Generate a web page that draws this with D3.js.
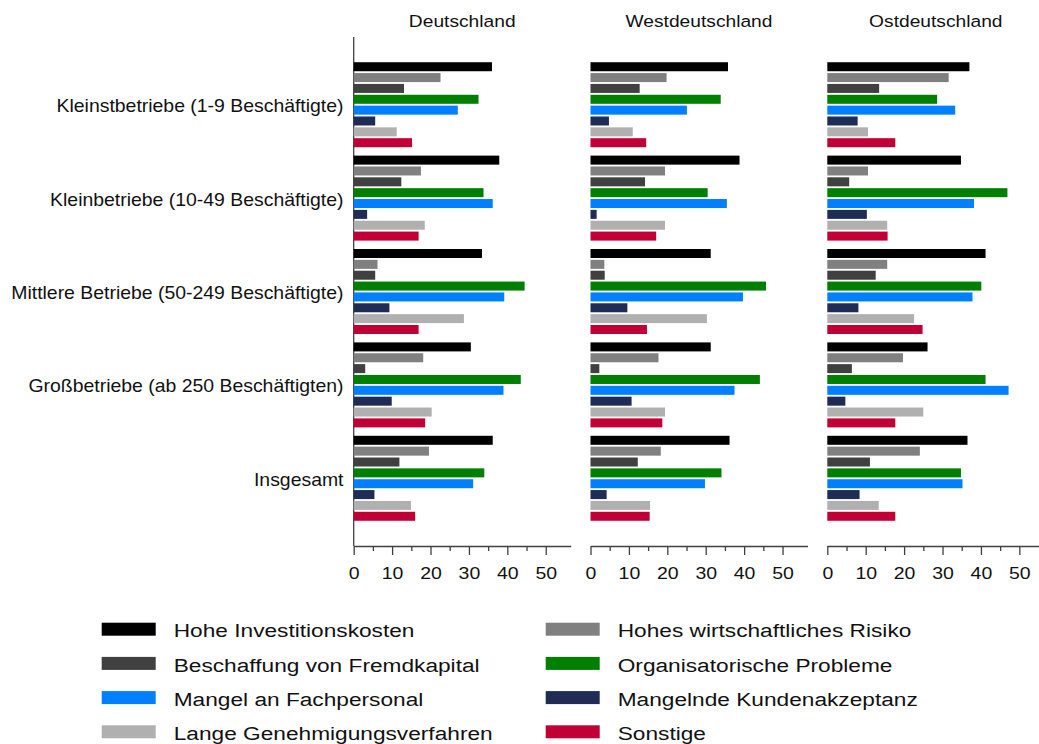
<!DOCTYPE html>
<html>
<head>
<meta charset="utf-8">
<script src="https://cdn.jsdelivr.net/npm/d3@7"></script>
<style>
  body { margin: 0; background: #fff; }
  text { font-family: "Liberation Sans", Arial, sans-serif; fill: #111; }
</style>
</head>
<body>
<script>
const categories = [
  'Kleinstbetriebe (1-9 Beschäftigte)',
  'Kleinbetriebe (10-49 Beschäftigte)',
  'Mittlere Betriebe (50-249 Beschäftigte)',
  'Großbetriebe (ab 250 Beschäftigten)',
  'Insgesamt'
]
const panels = ['Deutschland', 'Westdeutschland', 'Ostdeutschland']
// bar order within each group, top to bottom
const series = [
  'Hohe Investitionskosten',
  'Hohes wirtschaftliches Risiko',
  'Beschaffung von Fremdkapital',
  'Organisatorische Probleme',
  'Mangel an Fachpersonal',
  'Mangelnde Kundenakzeptanz',
  'Lange Genehmigungsverfahren',
  'Sonstige'
]
const seriesColors = ['#000000', '#808080', '#404040', '#007f00', '#0080ff', '#1f2d56', '#b0b0b0', '#c10035']

// one row per category, values in series order
const deutschland = [
  [36.0, 22.6, 13.1, 32.5, 27.1, 5.6, 11.2, 15.2],
  [37.9, 17.5, 12.4, 33.8, 36.2, 3.5, 18.5, 16.9],
  [33.4, 6.2, 5.6, 44.5, 39.2, 9.3, 28.7, 16.9],
  [30.5, 18.1, 3.0, 43.5, 39.0, 9.9, 20.3, 18.6],
  [36.2, 19.6, 11.9, 34.0, 31.1, 5.4, 14.9, 16.0]
]
const westdeutschland = [
  [35.8, 19.8, 12.8, 33.9, 25.1, 4.8, 11.0, 14.5],
  [38.8, 19.4, 14.2, 30.5, 35.5, 1.6, 19.4, 17.1],
  [31.3, 3.6, 3.7, 45.7, 39.7, 9.6, 30.3, 14.7],
  [31.3, 17.7, 2.3, 44.1, 37.5, 10.7, 19.4, 18.7],
  [36.2, 18.3, 12.3, 34.1, 29.8, 4.2, 15.5, 15.4]
]
const ostdeutschland = [
  [37.0, 31.6, 13.5, 28.6, 33.3, 7.9, 10.6, 17.7],
  [34.8, 10.6, 5.7, 46.9, 38.2, 10.3, 15.6, 15.7],
  [41.2, 15.6, 12.6, 40.1, 37.8, 8.1, 22.6, 24.8],
  [26.1, 19.7, 6.4, 41.2, 47.2, 4.7, 25.0, 17.7],
  [36.5, 24.1, 11.1, 34.8, 35.2, 8.4, 13.4, 17.7]
]
const panelData = [deutschland, westdeutschland, ostdeutschland]
const majorTicks = [0, 10, 20, 30, 40, 50]
const minorTicks = [5, 15, 25, 35, 45]

const width = 1039, height = 744
const plotTop = 37, plotBottom = 546
const panelLeft = 353.7, panelStep = 236.8, panelWidth = 217

const svg = d3.select('body').append('svg')
  .attr('width', width)
  .attr('height', height)

const y = d3.scaleBand().domain(categories)
  .range([plotTop, plotBottom])
  .paddingInner(0.09)
  .paddingOuter(0.27)
const yInner = d3.scaleBand().domain(series)
  .range([0, y.bandwidth()])
  .paddingInner(0.17)
const color = d3.scaleOrdinal().domain(series).range(seriesColors)

// stretched text helper (reference glyphs are wider than Arial)
const label = (parent, x, yy, str, size, sx, anchor) => parent.append('text')
  .attr('transform', `translate(${x},${yy}) scale(${sx},1)`)
  .attr('text-anchor', anchor)
  .style('font-size', size + 'px')
  .text(str)

// category labels
categories.forEach(c => {
  label(svg, 343.5, y(c) + y.bandwidth() / 2 + 7.6, c, 17.5, 1.11, 'end')
})

// y axis line, only left of the first panel
svg.append('line')
  .attr('x1', panelLeft).attr('x2', panelLeft)
  .attr('y1', plotTop).attr('y2', plotBottom)
  .attr('stroke', '#404040').attr('stroke-width', 1.3)

panels.forEach((p, pi) => {
  const x0 = panelLeft + pi * panelStep
  const x = d3.scaleLinear().domain([0, 56.5]).range([x0, x0 + panelWidth])
  const g = svg.append('g')

  label(g, x0 + panelWidth / 2, 27, p, 17, 1.13, 'middle')

  categories.forEach((c, ci) => {
    g.selectAll(null)
      .data(series.map((s, si) => ({ s: s, v: panelData[pi][ci][si] })))
      .enter().append('rect')
      .attr('x', x(0))
      .attr('y', d => y(c) + yInner(d.s))
      .attr('width', d => x(d.v) - x(0))
      .attr('height', yInner.bandwidth())
      .attr('fill', d => color(d.s))
  })

  const axis = g.append('g').attr('transform', `translate(0,${plotBottom})`)
    .call(d3.axisBottom(x).tickValues(majorTicks).tickSize(9).tickSizeOuter(0))
  axis.select('.domain').attr('stroke', '#404040').attr('stroke-width', 1.3)
  axis.selectAll('.tick line').attr('stroke', '#404040').attr('stroke-width', 1.3)
  axis.selectAll('.tick text')
    .attr('y', 32.7).attr('dy', 0)
    .attr('transform', 'scale(1.18,1)')
    .attr('fill', '#111')
    .style('font-size', '16.5px')
    .style('font-family', '"Liberation Sans", Arial, sans-serif')

  const minor = g.append('g').attr('transform', `translate(0,${plotBottom})`)
    .call(d3.axisBottom(x).tickValues(minorTicks).tickSize(5).tickFormat(''))
  minor.select('.domain').remove()
  minor.selectAll('.tick line').attr('stroke', '#404040').attr('stroke-width', 1.3)
})

// legend, two columns filled row by row
const legendX = [101.7, 545.7], legendY = 622.7, legendStep = 34.2
const legend = svg.append('g')
series.forEach((s, i) => {
  const lx = legendX[i % 2], ly = legendY + Math.floor(i / 2) * legendStep
  legend.append('rect')
    .attr('x', lx).attr('y', ly)
    .attr('width', 54).attr('height', 13)
    .attr('fill', color(s))
  label(legend, lx + 72, ly + 14.6, s, 18.6, 1.22, 'start')
})
</script>
</body>
</html>
